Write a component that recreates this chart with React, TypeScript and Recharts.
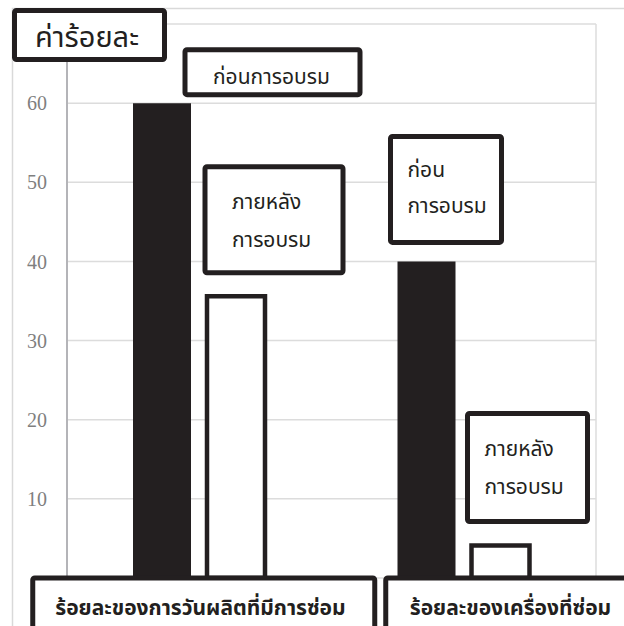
import { Bar, BarChart, CartesianGrid, LabelList, XAxis, YAxis } from "recharts";

// categories along the x axis (shown inside boxes at the bottom)
const categories = ["ร้อยละของการวันผลิตที่มีการซ่อม", "ร้อยละของเครื่องที่ซ่อม"];
// percent before training
const beforeValues = [60, 40];
// percent after training
const afterValues = [35.6, 4.1];
const yTicks = [0, 10, 20, 30, 40, 50, 60, 70];

const beforeNotes = [["ก่อนการอบรม"], ["ก่อน", "การอบรม"]];
const afterNotes = [["ภายหลัง", "การอบรม"], ["ภายหลัง", "การอบรม"]];
const yTitle = "ค่าร้อยละ";

const data = categories.map((name, i) => ({
  name,
  before: beforeValues[i],
  after: afterValues[i],
}));

const INK = "#231f20";
const THAI = "'Noto Sans Thai', 'Noto Sans', 'DejaVu Sans', sans-serif";

// box offsets relative to the bar each note belongs to
const beforeBox = [
  { dx: 52, dy: -53.5, w: 175, h: 45, tx: 80, ty: [-19] },
  { dx: -7, dy: -125, w: 111, h: 106, tx: 10, ty: [-84, -48] },
];
const afterBox = [
  { dx: -2, dy: -129.5, w: 138, h: 106, tx: 25, ty: [-87, -49] },
  { dx: -4, dy: -132, w: 120, h: 108, tx: 13, ty: [-90, -52] },
];

function noteLabel(notes: string[][], boxes: typeof beforeBox) {
  return (props: any) => {
    const { x, y, index } = props;
    const b = boxes[index];
    if (!b) return null;
    return (
      <g>
        <rect x={x + b.dx} y={y + b.dy} width={b.w} height={b.h} rx={2}
          fill="#fff" stroke={INK} strokeWidth={5} />
        {notes[index].map((line, k) => (
          <text key={k} x={x + b.tx} y={y + b.ty[k]} fill={INK}
            fontSize={21} fontFamily={THAI}>{line}</text>
        ))}
      </g>
    );
  };
}

// category box offsets relative to the category centre
const catBox = [
  { dx: -166.5, w: 342, tx: -144 },
  { dx: -78, w: 300, tx: -54 },
];

function CategoryTick(props: any) {
  const { x, y, payload, index } = props;
  const b = catBox[index ?? payload.index];
  return (
    <g>
      <rect x={x + b.dx} y={y} width={b.w} height={80} rx={2}
        fill="#fff" stroke={INK} strokeWidth={5} />
      <text x={x + b.tx} y={y + 37} fill={INK} fontSize={21} fontWeight="bold"
        fontFamily={THAI}>{payload.value}</text>
    </g>
  );
}

export default function App() {
  return (
    <div style={{ position: "relative", width: 624, height: 626, background: "#fff" }}>
      <style>{"body{margin:0}"}</style>
      <BarChart width={624} height={626} data={data}
        margin={{ top: 24, right: 28, left: 0, bottom: 0 }}
        barSize={58} barGap={16}>
        <rect x={12.5} y={8.5} width={700} height={700} fill="none" stroke="#d9d9d9" strokeWidth={1.5} />
        <CartesianGrid stroke="#dcdcdc" strokeWidth={1.5}
          verticalCoordinatesGenerator={({ offset }: any) => [offset.left + offset.width]} />
        <YAxis domain={[0, 70]} ticks={yTicks} interval={0} width={67}
          axisLine={{ stroke: "#b4b4b8", strokeWidth: 2 }} tickLine={false}
          tickSize={0} tickMargin={20}
          tickFormatter={(v: number) => (v === 0 || v === 70 ? "" : String(v))}
          tick={{ fill: "#7f7f7f", fontSize: 20, fontFamily: "'Liberation Serif', serif" }} />
        <Bar dataKey="before" fill={INK} isAnimationActive={false}>
          <LabelList dataKey="before" content={noteLabel(beforeNotes, beforeBox)} />
        </Bar>
        <Bar dataKey="after" fill="#fff" stroke={INK} strokeWidth={4.5} isAnimationActive={false}>
          <LabelList dataKey="after" content={noteLabel(afterNotes, afterBox)} />
        </Bar>
        <XAxis dataKey="name" height={48} axisLine={false} tickLine={false}
          tickSize={0} tickMargin={0} interval={0} tick={<CategoryTick />} />
      </BarChart>
      {/* axis title box sits above the axis line */}
      <svg width={200} height={80} style={{ position: "absolute", left: 0, top: 0 }}>
        <rect x={14.5} y={10.5} width={150} height={49} rx={2} fill="#fff" stroke={INK} strokeWidth={5} />
        <text x={35} y={47} fill={INK} fontSize={29} fontFamily={THAI}>{yTitle}</text>
      </svg>
    </div>
  );
}
